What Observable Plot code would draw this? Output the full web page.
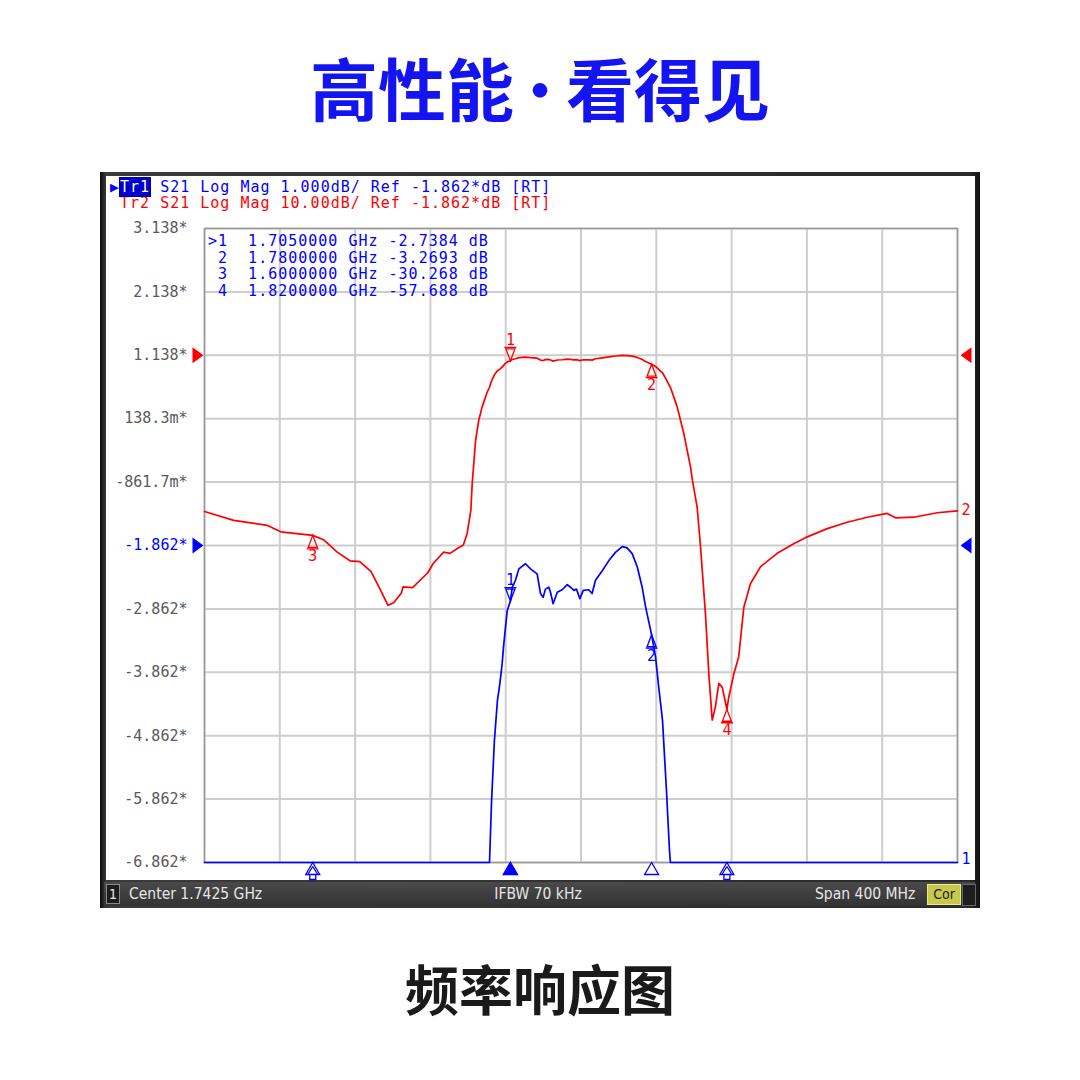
<!DOCTYPE html>
<html>
<head>
<meta charset="utf-8">
<script src="https://cdn.jsdelivr.net/npm/d3@7"></script>
<script src="https://cdn.jsdelivr.net/npm/@observablehq/plot@0.6"></script>
<style>
  html, body { margin: 0; padding: 0; }
  body { width: 1080px; height: 1080px; background: #ffffff; position: relative; overflow: hidden; font-family: "Noto Sans CJK SC", sans-serif; }
  #title { position: absolute; left: 0; top: 37px; width: 1080px; text-align: center; font-size: 68px; font-weight: 700; color: #1414f0; line-height: 100px; }
  #title .dot { font-size: 52px; font-weight: 900; position: relative; top: -6px; }
  #caption { position: absolute; left: 0; top: 953px; width: 1080px; text-align: center; font-size: 54px; font-weight: 700; color: #1a1a1a; line-height: 70px; }
  #inst { position: absolute; left: 100px; top: 172px; width: 880px; height: 736px; background: linear-gradient(90deg, #0c0c0c 0px, #3a3a3a 6px, #2a2a2a 870px, #111 880px); }
  #screen { position: absolute; left: 106px; top: 176px; width: 869px; height: 704px; background: #ffffff; }
  .plotlayer { position: absolute; left: 106px; top: 176px; width: 869px; height: 704px; }
  .mono { font-family: "DejaVu Sans Mono", monospace; font-size: 15px; letter-spacing: 1px; white-space: pre; }
  #hdr { position: absolute; left: 110px; top: 179px; line-height: 16px; }
  #hdr .l1 { color: #0000ff; }
  #hdr .l2 { color: #ff0000; }
  #hdr .box { background: #0000d0; color: #ffffff; outline: 1px solid #000080; }
  #tbl { position: absolute; left: 208px; top: 233px; line-height: 16.6px; color: #0000ff; }
  #status { position: absolute; left: 104px; top: 882px; width: 871px; height: 24px; background: linear-gradient(#4a4a4a, #333333); font-family: "DejaVu Sans Condensed", "DejaVu Sans", sans-serif; font-size: 15.5px; color: #e6e6e6; }
  #status div { position: absolute; top: 0; line-height: 24px; white-space: pre; }
  #status .num { left: 2px; top: 2px; width: 12px; height: 18px; line-height: 18px; text-align: center; border: 1px solid #8a8a8a; background: #1c1c1c; font-size: 14px; }
  #status .cor { left: 823px; top: 2px; width: 32px; height: 19px; line-height: 19px; text-align: center; background: #c8c84a; color: #222; border: 1px solid #e8e890; font-size: 14px; }
  #status .dark { left: 858px; top: 2px; width: 12px; height: 20px; background: #1e1e1e; border: 1px solid #666; }
</style>
</head>
<body>
<div id="title">高性能<span class="dot">·</span>看得见</div>
<div id="inst"></div>
<div id="screen"></div>
<div id="hdr" class="mono"></div>
<div id="tbl" class="mono"></div>
<div id="status">
  <div class="num">1</div>
  <div style="left:25px">Center 1.7425 GHz</div>
  <div style="left:334px;width:200px;text-align:center">IFBW 70 kHz</div>
  <div style="left:711px">Span 400 MHz</div>
  <div class="cor">Cor</div>
  <div class="dark"></div>
</div>
<div id="caption">频率响应图</div>
<script>
// ---- data ----
const freqMHz = [1542.5,1558,1576,1583,1600,1606,1613,1620,1625,1631,1636,1640,1643,1647,1648,1653,1661,1664,1669.5,1673,1677,1680,1682,1684,1684.7,1686.5,1688.2,1690,1692.7,1693.9,1695,1696.5,1698.1,1699.4,1700.6,1701.5,1702.4,1703.3,1705,1706,1707.7,1709.5,1713,1715.7,1719.2,1721,1722.4,1723.6,1725.4,1726.3,1727.7,1729.9,1732.5,1735.2,1736.9,1738.7,1740.1,1741.9,1743.7,1746.6,1748.4,1750.2,1753.8,1757.3,1760.8,1764.4,1767,1769.7,1772.4,1775,1776.8,1780,1782.1,1783.8,1785.8,1787.9,1789.5,1790,1793.6,1797.1,1800.7,1801.7,1804.2,1806,1808.6,1810.4,1812.2,1813.9,1815.7,1817.5,1820,1821,1823.7,1826.3,1829,1832.5,1837.9,1846.7,1855.5,1862.7,1873.3,1883.9,1894.5,1905.2,1909.6,1919.3,1931.7,1942.5];
const s21dB = [-26.5,-27.9,-28.7,-29.7,-30.27,-31.0,-32.9,-34.3,-34.4,-36.0,-38.9,-41.3,-40.9,-39.4,-38.4,-38.5,-36.2,-34.7,-32.9,-33.1,-32.3,-31.8,-30.0,-26.3,-22.1,-15.3,-12.1,-10.0,-7.65,-6.9,-5.89,-4.94,-4.31,-4.04,-3.73,-3.41,-3.15,-2.89,-2.738,-2.52,-2.41,-2.23,-2.15,-2.23,-2.31,-2.62,-2.68,-2.55,-2.52,-2.60,-2.78,-2.60,-2.56,-2.48,-2.52,-2.57,-2.55,-2.70,-2.57,-2.56,-2.62,-2.41,-2.26,-2.10,-1.97,-1.88,-1.90,-1.99,-2.20,-2.52,-2.83,-3.269,-3.62,-4.1,-4.62,-5.73,-6.67,-6.9,-10.0,-14.2,-19.5,-21.6,-25.8,-32.1,-42.6,-52.1,-59.4,-57.3,-53.6,-54.2,-57.69,-55.8,-52.1,-49.4,-41.6,-37.9,-35.2,-33.1,-31.6,-30.5,-29.2,-28.2,-27.4,-26.8,-27.5,-27.4,-26.7,-26.4];

const markerNum = [1, 2, 3, 4];
const markerFreqMHz = [1705, 1780, 1600, 1820];
const markerDb = [-2.7384, -3.2693, -30.268, -57.688];

const xGrid = [1542.5,1582.5,1622.5,1662.5,1702.5,1742.5,1782.5,1822.5,1862.5,1902.5,1942.5];
const tr1Ticks = [3.138,2.138,1.138,0.1383,-0.8617,-1.862,-2.862,-3.862,-4.862,-5.862,-6.862];
const tr1Labels = ["3.138*","2.138*","1.138*","138.3m*","-861.7m*","-1.862*","-2.862*","-3.862*","-4.862*","-5.862*","-6.862*"];
const tr2Domain = [-81.862, 18.138];
const refDb = -1.862;

const hdr1 = ["Tr1", " S21 Log Mag 1.000dB/ Ref -1.862*dB [RT]"];
const hdr2 = "Tr2 S21 Log Mag 10.00dB/ Ref -1.862*dB [RT]";

// ---- build ----
const trace = freqMHz.map((f, i) => ({f, db: s21dB[i]}));
const markers = markerNum.map((n, i) => ({n, f: markerFreqMHz[i], db: markerDb[i]}));

document.getElementById("hdr").innerHTML =
  `<div class="l1">▶<span class="box">${hdr1[0]}</span>${hdr1[1]}</div><div class="l2"> ${hdr2}</div>`;
document.getElementById("tbl").innerHTML = markers.map(m =>
  `${m.n === 1 ? ">" : " "}${m.n}  ${(m.f / 1000).toFixed(7)} GHz ${m.db.toPrecision(5)} dB`).join("\n");

const BLUE = "#0000ff", RED = "#ff0000";
const dims = {width: 869, height: 704, marginLeft: 98, marginRight: 18, marginTop: 52, marginBottom: 18};
const style = {background: "transparent", fontFamily: "DejaVu Sans Mono, monospace", fontSize: "15px", overflow: "visible"};

// custom glyph shapes (instrument-style markers)
const refRight = {draw(c) { c.moveTo(-5.5, -8); c.lineTo(5.5, 0); c.lineTo(-5.5, 8); c.closePath(); }};
const refLeft  = {draw(c) { c.moveTo(5.5, -8); c.lineTo(-5.5, 0); c.lineTo(5.5, 8); c.closePath(); }};
const mkDown = {draw(c) { c.moveTo(0, 0); c.lineTo(-4.5, -12); c.lineTo(4.5, -12); c.closePath(); c.moveTo(-6, -13.5); c.lineTo(6, -13.5); }};
const mkUp   = {draw(c) { c.moveTo(0, 0); c.lineTo(-4.5, 12); c.lineTo(4.5, 12); c.closePath(); c.moveTo(-6, 13.5); c.lineTo(6, 13.5); }};
const stim   = {draw(c) { c.moveTo(0, 0); c.lineTo(-7, 12); c.lineTo(7, 12); c.closePath(); }};
const stimOff = {draw(c) { c.moveTo(0, 0); c.lineTo(-7, 12); c.lineTo(7, 12); c.closePath();
  c.moveTo(0, 4); c.lineTo(-5, 12); c.moveTo(0, 4); c.lineTo(5, 12);
  c.moveTo(-3, 12); c.lineTo(-3, 17); c.lineTo(3, 17); c.lineTo(3, 12); }};

const inRange1 = d => d.db >= -6.862;

const tr1 = Plot.plot({
  ...dims, style,
  x: {domain: [xGrid[0], xGrid[xGrid.length - 1]], axis: null},
  y: {domain: [tr1Ticks[tr1Ticks.length - 1], tr1Ticks[0]], axis: null, clamp: true},
  marks: [
    Plot.gridX(xGrid, {stroke: "#cdcdcd", strokeOpacity: 1, strokeWidth: 2}),
    Plot.gridY(tr1Ticks, {stroke: "#cdcdcd", strokeOpacity: 1, strokeWidth: 2}),
    Plot.frame({stroke: "#9a9a9a", strokeWidth: 1.5}),
    Plot.text(tr1Ticks, {y: d => d, text: (d, i) => tr1Labels[i], frameAnchor: "left", textAnchor: "end", dx: -17,
      fill: d => d === refDb ? BLUE : "#5a5a5a"}),
    Plot.dot([refDb], {y: d => d, frameAnchor: "left", dx: -6.5, symbol: refRight, r: 1, fill: BLUE, stroke: "none"}),
    Plot.dot([refDb], {y: d => d, frameAnchor: "right", dx: 8.5, symbol: refLeft, r: 1, fill: BLUE, stroke: "none"}),
    Plot.line(trace, {x: "f", y: "db", stroke: BLUE, strokeWidth: 1.7}),
    // markers on trace 1
    Plot.dot(markers.filter(d => inRange1(d) && d.n === 1), {x: "f", y: "db", symbol: mkDown, r: 1, stroke: BLUE, fill: "none", strokeWidth: 1.3}),
    Plot.text(markers.filter(d => inRange1(d) && d.n === 1), {x: "f", y: "db", text: "n", dy: -21, fill: BLUE}),
    Plot.dot(markers.filter(d => inRange1(d) && d.n !== 1), {x: "f", y: "db", symbol: mkUp, r: 1, stroke: BLUE, fill: "none", strokeWidth: 1.3}),
    Plot.text(markers.filter(d => inRange1(d) && d.n !== 1), {x: "f", y: "db", text: "n", dy: 21, fill: BLUE}),
    // stimulus markers under the grid
    Plot.dot(markers.filter(d => d.n === 1), {x: "f", frameAnchor: "bottom", symbol: stim, r: 1, fill: BLUE, stroke: BLUE}),
    Plot.dot(markers.filter(d => d.n !== 1 && inRange1(d)), {x: "f", frameAnchor: "bottom", symbol: stim, r: 1, fill: "white", stroke: BLUE, strokeWidth: 1.3}),
    Plot.dot(markers.filter(d => !inRange1(d)), {x: "f", frameAnchor: "bottom", symbol: stimOff, r: 1, fill: "white", stroke: BLUE, strokeWidth: 1.3}),
    Plot.text([trace[trace.length - 1]], {x: "f", y: "db", text: () => "1", textAnchor: "start", dx: 4, dy: -3, fill: BLUE})
  ]
});

const tr2 = Plot.plot({
  ...dims, style,
  x: {domain: [xGrid[0], xGrid[xGrid.length - 1]], axis: null},
  y: {domain: tr2Domain, axis: null, clamp: true},
  marks: [
    Plot.dot([refDb], {y: d => d, frameAnchor: "left", dx: -6.5, symbol: refRight, r: 1, fill: RED, stroke: "none"}),
    Plot.dot([refDb], {y: d => d, frameAnchor: "right", dx: 8.5, symbol: refLeft, r: 1, fill: RED, stroke: "none"}),
    Plot.line(trace, {x: "f", y: "db", stroke: RED, strokeWidth: 1.7}),
    Plot.dot(markers.filter(d => d.n === 1), {x: "f", y: "db", symbol: mkDown, r: 1, stroke: RED, fill: "none", strokeWidth: 1.3}),
    Plot.text(markers.filter(d => d.n === 1), {x: "f", y: "db", text: "n", dy: -21, fill: RED}),
    Plot.dot(markers.filter(d => d.n !== 1), {x: "f", y: "db", symbol: mkUp, r: 1, stroke: RED, fill: "none", strokeWidth: 1.3}),
    Plot.text(markers.filter(d => d.n !== 1), {x: "f", y: "db", text: "n", dy: 21, fill: RED}),
    Plot.text([trace[trace.length - 1]], {x: "f", y: "db", text: () => "2", textAnchor: "start", dx: 4, dy: -1, fill: RED})
  ]
});

for (const svg of [tr1, tr2]) {
  const wrap = document.createElement("div");
  wrap.className = "plotlayer";
  wrap.appendChild(svg);
  document.body.insertBefore(wrap, document.getElementById("hdr"));
}
</script>
</body>
</html>
